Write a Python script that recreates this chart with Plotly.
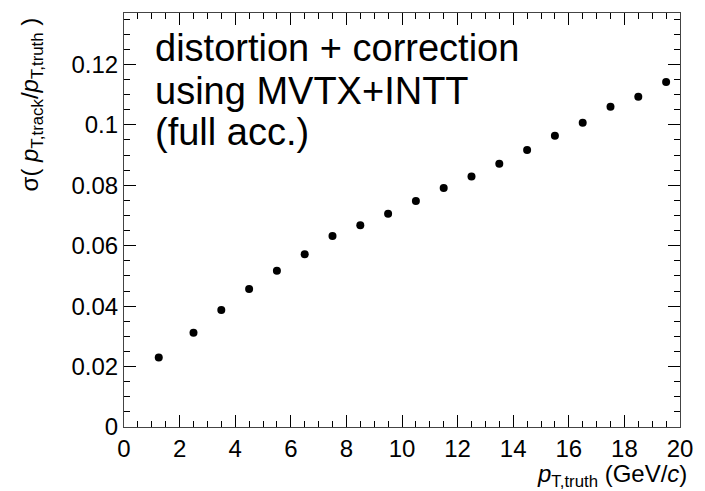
import plotly.graph_objects as go

pt_truth = [1.25, 2.5, 3.5, 4.5, 5.5, 6.5, 7.5, 8.5, 9.5, 10.5, 11.5, 12.5,
            13.5, 14.5, 15.5, 16.5, 17.5, 18.5, 19.5]
sigma = [0.0230, 0.0312, 0.0387, 0.0457, 0.0517, 0.0572, 0.0632, 0.0668,
         0.0706, 0.0748, 0.0791, 0.0829, 0.0871, 0.0917, 0.0964, 0.1007,
         0.1060, 0.1093, 0.1142]

x_tick_vals = [0, 2, 4, 6, 8, 10, 12, 14, 16, 18, 20]
y_tick_vals = [0, 0.02, 0.04, 0.06, 0.08, 0.1, 0.12]
y_tick_text = ["0", "0.02", "0.04", "0.06", "0.08", "0.1", "0.12"]
label_lines = ["distortion + correction", "using MVTX+INTT", "(full acc.)"]

FONT = "Liberation Sans, Arial, sans-serif"

fig = go.Figure()
fig.add_trace(go.Scatter(
    x=pt_truth, y=sigma, mode="markers",
    marker=dict(color="black", size=8, symbol="circle"),
    showlegend=False,
))

axis_common = dict(
    showgrid=False, zeroline=False, showline=True, linecolor="#444444",
    linewidth=1.2, mirror="ticks", ticks="inside", tickcolor="black",
    ticklen=12, tickwidth=1, tickfont=dict(family=FONT, size=24, color="black"),
)

fig.update_layout(
    width=705, height=491,
    margin=dict(l=124, r=17, t=13, b=64),
    paper_bgcolor="white", plot_bgcolor="white",
    xaxis=dict(range=[0, 20], tickvals=x_tick_vals,
               minor=dict(dtick=0.5, ticks="inside", ticklen=6, tickcolor="black"),
               **axis_common),
    yaxis=dict(range=[0, 0.137], tickvals=y_tick_vals, ticktext=y_tick_text,
               minor=dict(dtick=0.005, ticks="inside", ticklen=6, tickcolor="black"),
               **axis_common),
)

line_y = [0.915, 0.8114, 0.7124]
for txt, yy in zip(label_lines, line_y):
    fig.add_annotation(
        xref="paper", yref="paper", x=0.053, y=yy, xanchor="left", yanchor="middle",
        text=txt, showarrow=False, align="left",
        font=dict(family=FONT, size=38, color="black"),
    )

fig.add_annotation(
    xref="paper", yref="paper", x=1.016, y=-0.16, xanchor="right", yanchor="bottom",
    text="<i>p</i><sub>T,truth</sub> (GeV/<i>c</i>)",
    showarrow=False, font=dict(family=FONT, size=24, color="black"),
)

fig.add_annotation(
    xref="paper", yref="paper", x=-0.1667, y=0.995, xanchor="center", yanchor="top",
    textangle=-90,
    text="σ( <i>p</i><sub>T,track</sub>/<i>p</i><sub>T,truth</sub> )",
    showarrow=False, font=dict(family=FONT, size=24, color="black"),
)

fig.write_html("out.html")
